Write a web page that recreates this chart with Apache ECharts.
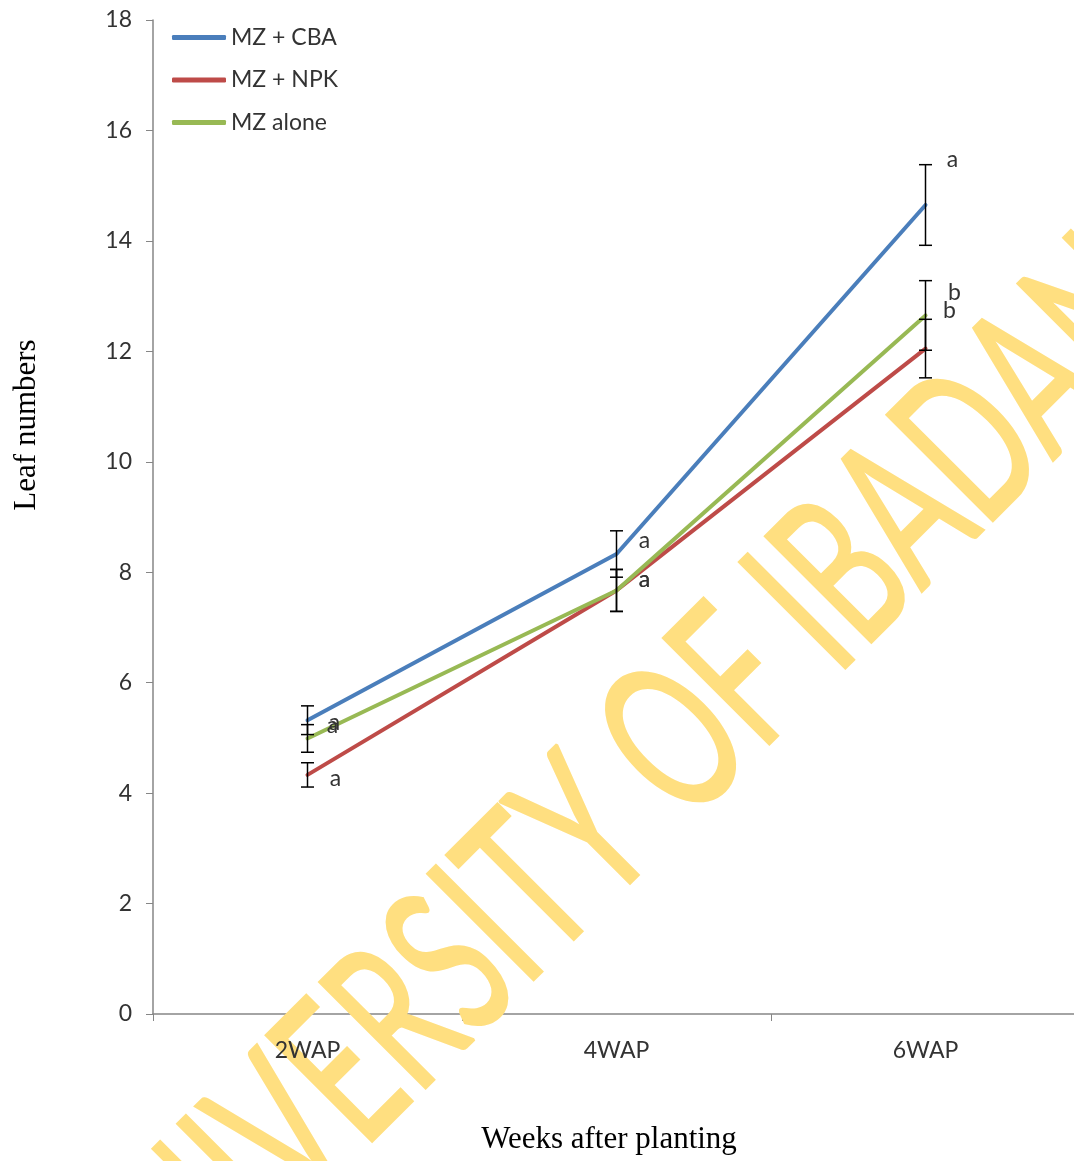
<!DOCTYPE html>
<html>
<head>
<meta charset="utf-8">
<script src="https://cdn.jsdelivr.net/npm/echarts@6/dist/echarts.min.js"></script>
<style>
  html, body { margin: 0; padding: 0; background: #ffffff; overflow: hidden; }
  #chart { width: 1090px; height: 1161px; }
</style>
</head>
<body>
<div id="chart"></div>
<script>
// ---- data ----
const weeks = ['2WAP', '4WAP', '6WAP'];
const seriesNames = ['MZ + CBA', 'MZ + NPK', 'MZ alone'];

// mean leaf numbers
const cbaMean   = [5.32, 8.33, 14.65];
const npkMean   = [4.33, 7.67, 12.05];
const aloneMean = [4.99, 7.67, 12.65];

// standard errors
const cbaErr   = [0.26, 0.42, 0.73];
const npkErr   = [0.22, 0.38, 0.53];
const aloneErr = [0.25, 0.38, 0.63];

// significance letters and the value each letter sits at
const cbaLetters   = ['a', 'a', 'a'];
const npkLetters   = ['a', 'a', 'b'];
const aloneLetters = ['a', 'a', 'b'];
const cbaLetterAt   = [5.27, 8.58, 15.47];
const npkLetterAt   = [4.27, 7.86, 12.73];
const aloneLetterAt = [5.23, 7.86, 13.07];

const yMin = 0, yMax = 18, yStep = 2;

// ---- styling ----
const colors = ['#4A7EBB', '#BE4B48', '#98B954'];
const sans = 'Lato';
const serif = '"Liberation Serif", "Times New Roman", serif';
const textColor = '#333333';
const axisGrey = '#868686';

const means = [cbaMean, npkMean, aloneMean];
const errs = [cbaErr, npkErr, aloneErr];
const letters = [cbaLetters, npkLetters, aloneLetters];
const letterAt = [cbaLetterAt, npkLetterAt, aloneLetterAt];
// horizontal nudge (px) of each letter to the right of its week
const letterShift = [[27, 28, 27], [28, 28, 24], [25, 28, 29]];

const lineSeries = seriesNames.map((name, i) => ({
  name: name,
  type: 'line',
  data: means[i],
  symbol: 'none',
  lineStyle: { width: 4, color: colors[i], cap: 'round', join: 'round' },
  itemStyle: { color: colors[i] },
  z: 3 + i
}));

const errorSeries = seriesNames.map((name, i) => ({
  type: 'custom',
  name: name + ' SE',
  data: means[i].map((m, k) => [k, m - errs[i][k], m + errs[i][k]]),
  z: 10,
  silent: true,
  renderItem: function (params, api) {
    const lo = api.coord([api.value(0), api.value(1)]);
    const hi = api.coord([api.value(0), api.value(2)]);
    const hw = 6.5;
    const st = { stroke: '#000000', lineWidth: 1.5 };
    return {
      type: 'group',
      children: [
        { type: 'line', shape: { x1: lo[0], y1: lo[1], x2: hi[0], y2: hi[1] }, style: st },
        { type: 'line', shape: { x1: lo[0] - hw, y1: lo[1], x2: lo[0] + hw, y2: lo[1] }, style: st },
        { type: 'line', shape: { x1: hi[0] - hw, y1: hi[1], x2: hi[0] + hw, y2: hi[1] }, style: st }
      ]
    };
  }
}));

const letterSeries = seriesNames.map((name, i) => ({
  type: 'custom',
  name: name + ' letters',
  data: letterAt[i].map((v, k) => [k, v]),
  z: 12,
  silent: true,
  renderItem: function (params, api) {
    const k = api.value(0);
    const p = api.coord([k, api.value(1)]);
    return {
      type: 'text',
      style: {
        text: letters[i][k],
        x: p[0] + letterShift[i][k],
        y: p[1],
        textAlign: 'center',
        textVerticalAlign: 'middle',
        fill: textColor,
        font: '23px ' + sans
      }
    };
  }
}));

// ---- watermark geometry ----
const wmText = 'UNIVERSITY OF IBADAN';
const wmSize = 209;
const wmFont = wmSize + 'px ' + sans;
const mctx = document.createElement('canvas').getContext('2d');
mctx.font = wmFont;
const tw = s => mctx.measureText(s).width;
const wmAngle = Math.PI / 4;
const wmScale = 441 / (tw('UNIVERSITY OF ') - tw('UNIVERS'));
const wmAlong = wmScale * (tw('UNIVERS') + tw('I') / 2);
const wmX = 490 - wmAlong * Math.cos(wmAngle);
const wmY = 928 + wmAlong * Math.sin(wmAngle);

const chart = echarts.init(document.getElementById('chart'), null, { renderer: 'canvas' });

const gridBox = { left: 153, top: 20, width: 927, height: 994 };

chart.setOption({
  animation: false,
  backgroundColor: '#ffffff',
  color: colors,
  grid: Object.assign({ containLabel: false }, gridBox),
  legend: {
    data: seriesNames,
    orient: 'vertical',
    left: 172,
    top: 26,
    padding: 0,
    itemWidth: 54,
    itemHeight: 5,
    itemGap: 19.5,
    icon: 'roundRect',
    textStyle: { fontFamily: sans, fontSize: 23, color: textColor, lineHeight: 22 }
  },
  xAxis: [
    {
      // axis line and ticks
      type: 'category',
      data: weeks,
      boundaryGap: true,
      z: 0,
      axisLine: { lineStyle: { color: axisGrey, width: 1.5 } },
      axisTick: { show: true, length: 7, interval: 0, lineStyle: { color: axisGrey } },
      axisLabel: { show: false },
      splitLine: { show: false }
    },
    {
      // week labels, kept above the watermark
      type: 'category',
      data: weeks,
      boundaryGap: true,
      position: 'bottom',
      z: 120,
      axisLine: { show: false },
      axisTick: { show: false },
      axisLabel: { margin: 25, fontFamily: sans, fontSize: 23, color: textColor },
      splitLine: { show: false }
    }
  ],
  yAxis: {
    type: 'value',
    min: yMin,
    max: yMax,
    interval: yStep,
    axisLine: { show: true, lineStyle: { color: axisGrey, width: 1.5 } },
    axisTick: { show: true, length: 7, lineStyle: { color: axisGrey } },
    axisLabel: { margin: 21, fontFamily: sans, fontSize: 23, color: textColor },
    splitLine: { show: false }
  },
  graphic: [
    {
      type: 'text',
      x: 609, y: 1140,
      z: 50,
      style: {
        text: 'Weeks after planting',
        textAlign: 'center', textVerticalAlign: 'middle',
        font: '31px ' + serif, fill: '#000000'
      }
    },
    {
      type: 'text',
      x: 27, y: 425,
      rotation: Math.PI / 2,
      z: 50,
      style: {
        text: 'Leaf numbers',
        textAlign: 'center', textVerticalAlign: 'middle',
        font: '31px ' + serif, fill: '#000000'
      }
    },
    {
      type: 'text',
      x: wmX, y: wmY,
      rotation: wmAngle,
      scaleX: wmScale, scaleY: 1,
      z: 100,
      silent: true,
      style: {
        text: wmText,
        textAlign: 'left', textVerticalAlign: 'middle',
        font: wmFont, fill: '#FFDF80',
        stroke: '#FFDF80', lineWidth: 3, lineJoin: 'round'
      }
    }
  ],
  series: [...lineSeries, ...errorSeries, ...letterSeries]
});
</script>
</body>
</html>
